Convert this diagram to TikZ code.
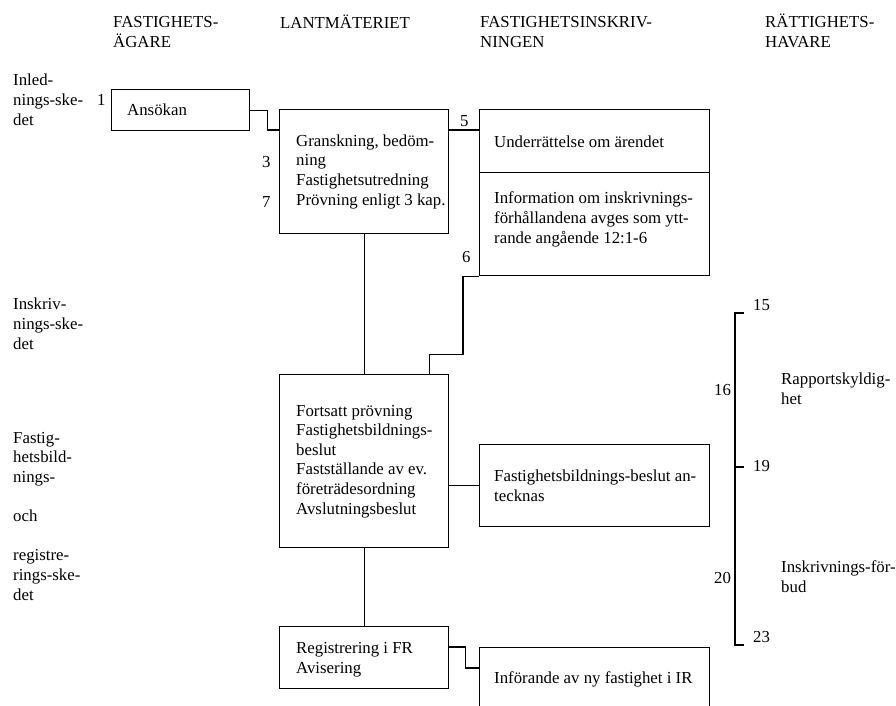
\documentclass[tikz,border=0pt]{standalone}
\usepackage{fontspec}
\setmainfont{Liberation Serif}
\usetikzlibrary{calc}

\tikzset{
  txt/.style={font=\fontsize{16.8}{19.6}\selectfont, inner sep=0pt, align=left, anchor=base west},
  box/.style={draw, line width=1.4pt, inner sep=0pt, anchor=north west},
  line/.style={line width=1.4pt}
}

\begin{document}
\begin{tikzpicture}[x=1pt,y=-1pt]
        \clip (0,0) rectangle (896,705);
        \fill[white] (0,0) rectangle (896,705);

        % column heads (base = last line)
        \node[txt] (hagare) at (113,47) {FASTIGHETS-\\ÄGARE};
        \node[txt] (hlm) at (280,28) {LANTMÄTERIET};
        \node[txt] (hinskr) at (480,47) {FASTIGHETSINSKRIV-\\NINGEN};
        \node[txt] (hratt) at (765,47) {RÄTTIGHETS-\\HAVARE};

        % phases
        \node[txt] (inled) at (13,125) {Inled-\\nings-ske-\\det};
        \node[txt] (inskriv) at (13,349) {Inskriv-\\nings-ske-\\det};
        \node[txt] (fbild) at (13,600) {Fastig-\\hetsbild-\\nings-\\[19.6pt]och\\[19.6pt]registre-\\rings-ske-\\det};

        % boxes
        \node[box, minimum width=138pt, minimum height=41pt] (ansokan) at (111,89) {};
        \node[box, minimum width=169pt, minimum height=124pt] (gransk) at (279,109) {};
        \node[box, minimum width=230pt, minimum height=63pt] (under) at (479,109) {};
        \node[box, minimum width=230pt, minimum height=103pt] (info) at (479,172) {};
        \node[box, minimum width=169pt, minimum height=173pt] (fort) at (279,374) {};
        \node[box, minimum width=230pt, minimum height=82pt] (beslut) at (479,444) {};
        \node[box, minimum width=169pt, minimum height=62pt] (reg) at (279,626) {};
        \node[box, minimum width=230pt, minimum height=90pt] (inf) at (479,647) {};

        % box texts
        \node[txt] (tansokan) at ($(ansokan.north west)+(16,26)$) {Ansökan};
        \node[txt] (tgransk) at ($(gransk.north west)+(17,96)$) {Granskning, bedöm-\\ning\\Fastighetsutredning\\Prövning enligt 3 kap.};
        \node[txt] (tunder) at ($(under.north west)+(15,38)$) {Underrättelse om ärendet};
        \node[txt] (tinfo) at ($(info.north west)+(15,71)$) {Information om inskrivnings-\\förhållandena avges som ytt-\\rande angående 12:1-6};
        \node[txt] (tfort) at ($(fort.north west)+(17,140)$) {Fortsatt prövning\\Fastighetsbildnings-\\beslut\\Fastställande av ev.\\företrädesordning\\Avslutningsbeslut};
        \node[txt] (tbeslut) at ($(beslut.north west)+(15,57)$) {Fastighetsbildnings-beslut an-\\tecknas};
        \node[txt] (treg) at ($(reg.north west)+(17,47)$) {Registrering i FR\\Avisering};
        \node[txt] (tinf) at ($(inf.north west)+(15,36)$) {Införande av ny fastighet i IR};

        % connectors
        \draw[line] (ansokan.east) -- ++(17,0) |- ($(gransk.north west)+(0,21)$);
        \draw[line] ($(gransk.north east)+(0,21)$) -- ($(under.north west)+(0,21)$);
        \draw[line] (gransk.south) -- (fort.north);
        \draw[line] (info.south west) -- ++(-16,0) -- ++(0,78) -| ($(fort.north east)+(-20,0)$);
        \draw[line] (beslut.west) -- (beslut.west -| fort.east);
        \draw[line] (fort.south) -- (reg.north);
        \draw[line] ($(reg.north east)+(0,21)$) -- ++(16,0) |- ($(inf.north west)+(0,21)$);

        % paragraph numbers
        \node[txt] (p1) at (97,105) {1};
        \node[txt] (p3) at (262,167) {3};
        \node[txt] (p7) at (262,207) {7};
        \node[txt] (p5) at (460,126) {5};
        \node[txt] (p6) at (462,262) {6};

        % rights holders
        \draw[line] (744,313) -- (735,313) -- (735,645) -- (744,645);
        \draw[line] (735,467) -- (744,467);
        \node[txt] (p15) at (753,310) {15};
        \node[txt] (p19) at (753,471) {19};
        \node[txt] (p23) at (753,642) {23};
        \node[txt] (p16) at (714,395) {16};
        \node[txt] (p20) at (714,583) {20};
        \node[txt] (rapp) at (781,404) {Rapportskyldig-\\het};
        \node[txt] (forbud) at (781,592) {Inskrivnings-för-\\bud};
\end{tikzpicture}
\end{document}
